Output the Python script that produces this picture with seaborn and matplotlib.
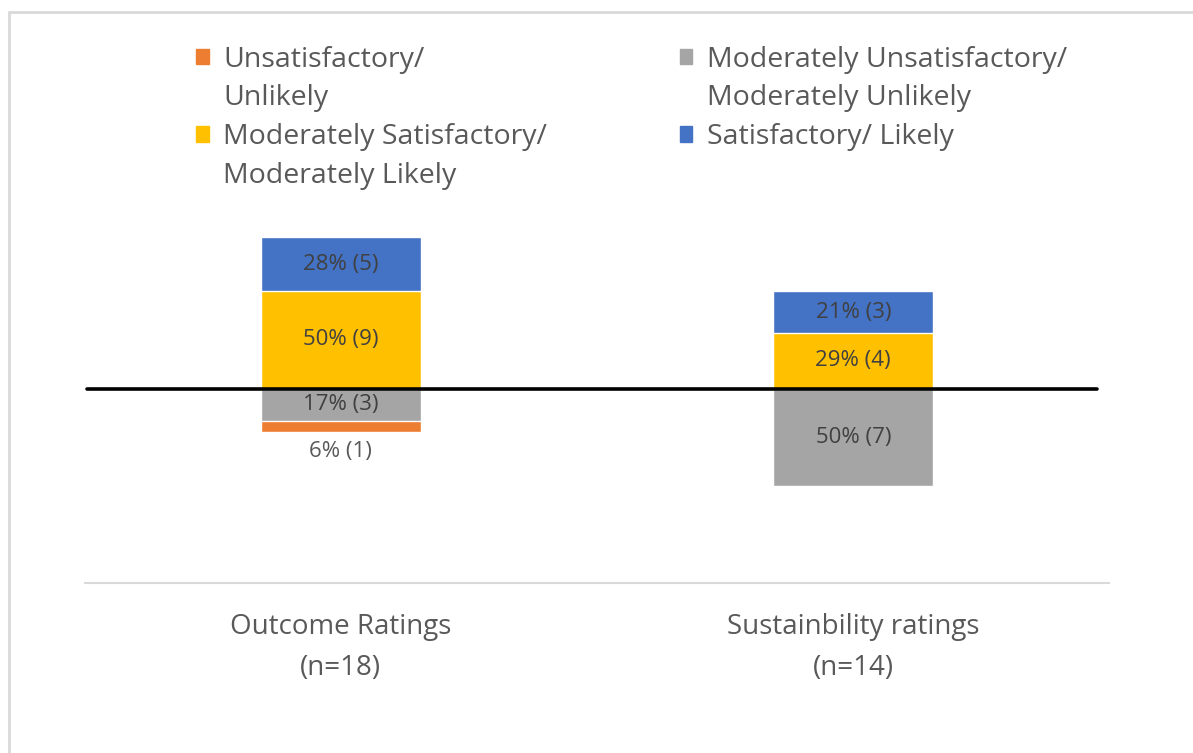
import numpy as np
import pandas as pd
import matplotlib
matplotlib.use("Agg")
import matplotlib.pyplot as plt
import seaborn as sns
from matplotlib.patches import Patch
from matplotlib.lines import Line2D

# categorias y conteos
categories = ["Outcome Ratings\n(n=18)", "Sustainbility ratings\n(n=14)"]
n_total = [18, 14]
unsat = [1, 0]
mod_unsat = [3, 7]
mod_sat = [9, 4]
sat = [5, 3]
pct_labels = {
    "unsat": ["6% (1)", ""],
    "mod_unsat": ["17% (3)", "50% (7)"],
    "mod_sat": ["50% (9)", "29% (4)"],
    "sat": ["28% (5)", "21% (3)"],
}
# leyenda: cada nombre en dos lineas como en Excel
legend_lines = {
    "unsat": ["Unsatisfactory/", "Unlikely"],
    "mod_unsat": ["Moderately Unsatisfactory/", "Moderately Unlikely"],
    "mod_sat": ["Moderately Satisfactory/", "Moderately Likely"],
    "sat": ["Satisfactory/ Likely", ""],
}
colors = {"unsat": "#ED7D31", "mod_unsat": "#A5A5A5", "mod_sat": "#FFC000", "sat": "#4472C4"}

sns.set_style("white")
plt.rcParams['font.family'] = ['Open Sans', 'DejaVu Sans']

n = np.array(n_total, dtype=float)
df = pd.DataFrame({
    "cat": categories,
    "unsat": -np.array(unsat) / n,
    "mod_unsat": -np.array(mod_unsat) / n,
    "mod_sat": np.array(mod_sat) / n,
    "sat": np.array(sat) / n,
})

fig = plt.figure(figsize=(11.93, 7.53), dpi=100)
ax = fig.add_axes([0.071, 0.226, 0.859, 0.516])

bw = 0.312
# negativos: gris desde 0, naranja debajo
sns.barplot(data=df, x="cat", y="mod_unsat", color=colors["mod_unsat"], width=bw, ax=ax, saturation=1)
sns.barplot(data=df, x="cat", y=df["mod_unsat"] + df["unsat"], color=colors["unsat"], width=bw, ax=ax,
            saturation=1, zorder=0)
# positivos: amarillo desde 0, azul encima
sns.barplot(data=df, x="cat", y=df["mod_sat"] + df["sat"], color=colors["sat"], width=bw, ax=ax, saturation=1)
sns.barplot(data=df, x="cat", y="mod_sat", color=colors["mod_sat"], width=bw, ax=ax, saturation=1)

txt_kw = dict(ha="center", va="center", fontsize=16, color="#404040")
for i in range(len(categories)):
    ms, s = df["mod_sat"][i], df["sat"][i]
    mu, u = df["mod_unsat"][i], df["unsat"][i]
    ax.text(i, ms / 2, pct_labels["mod_sat"][i], **txt_kw)
    ax.text(i, ms + s / 2, pct_labels["sat"][i], **txt_kw)
    ax.text(i, mu / 2, pct_labels["mod_unsat"][i], **txt_kw)
    if pct_labels["unsat"][i]:
        ax.text(i, mu + u - 0.1, pct_labels["unsat"][i], ha="center", va="center",
                fontsize=16, color="#595959")

ax.axhline(0, color="black", lw=2.6, xmin=0.002, xmax=0.988, zorder=5)
ax.set_ylim(-1, 1)
ax.set_xlim(-0.5, 1.5)
ax.set_yticks([])
ax.set_xlabel("")
ax.set_ylabel("")
for side in ["top", "right", "left"]:
    ax.spines[side].set_visible(False)
ax.spines["bottom"].set_color("#D9D9D9")
ax.spines["bottom"].set_linewidth(1.5)
ax.tick_params(axis="x", length=0, pad=22, labelsize=20, labelcolor="#595959")
for lbl in ax.get_xticklabels():
    lbl.set_linespacing(1.58)

# columnas de la leyenda: naranja/amarillo y gris/azul
order = ["unsat", "mod_sat", "mod_unsat", "sat"]
handles, names = [], []
for k in order:
    handles.append(Patch(color=colors[k]))
    names.append(legend_lines[k][0])
    handles.append(Patch(color="none"))
    names.append(legend_lines[k][1])
leg = fig.legend(handles, names, ncol=2, loc="upper left", bbox_to_anchor=(0.143, 0.973),
                 frameon=False, fontsize=20.5, handlelength=0.45, handleheight=0.45,
                 handletextpad=0.5, columnspacing=4.65, labelspacing=0.37, labelcolor="#595959")

# borde exterior
fig.add_artist(Line2D([9 / 1193, 1], [1 - 12 / 753, 1 - 12 / 753], color="#D9D9D9", lw=2))
fig.add_artist(Line2D([9 / 1193, 9 / 1193], [0, 1 - 12 / 753], color="#D9D9D9", lw=2))

plt.savefig("out.png", dpi=100)
